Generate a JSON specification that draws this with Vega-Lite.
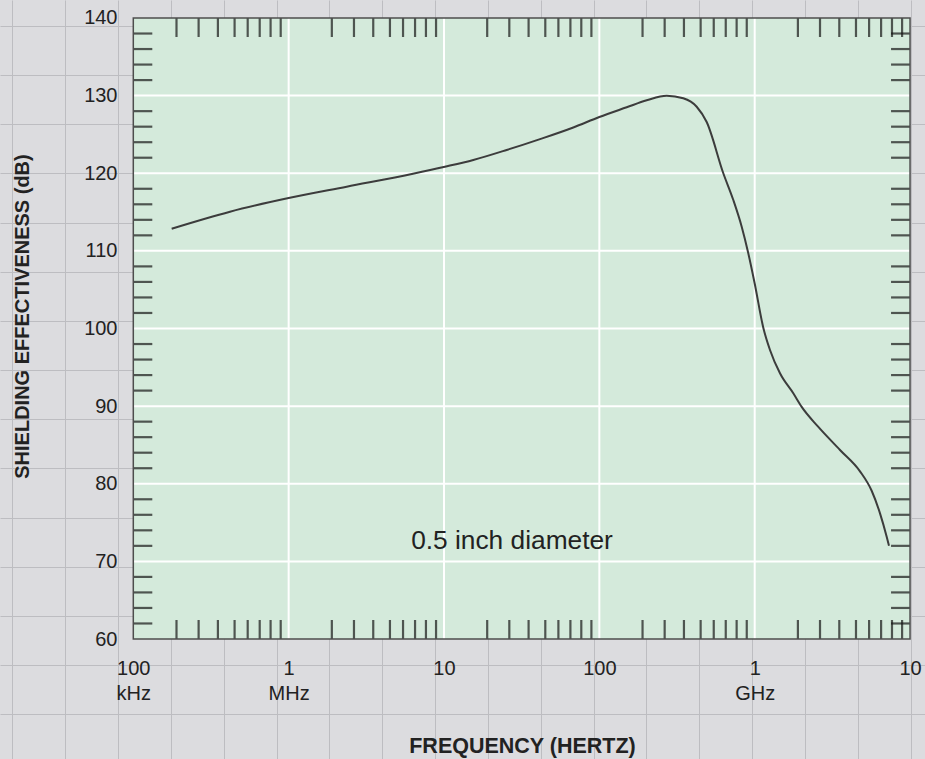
{
  "$schema": "https://vega.github.io/schema/vega-lite/v6.json",
  "width": 925,
  "height": 759,
  "autosize": {"type": "none"},
  "padding": 0,
  "background": "#dcdcdf",
  "config": {"view": {"stroke": null}, "font": "Liberation Sans"},
  "datasets": {
    "curve": [
      {"f": 176600, "db": 112.86},
      {"f": 419400, "db": 115.05},
      {"f": 1000000, "db": 116.8},
      {"f": 2364000, "db": 118.27},
      {"f": 6317000, "db": 119.94},
      {"f": 10140000, "db": 120.84},
      {"f": 15440000, "db": 121.71},
      {"f": 25330000, "db": 123.0},
      {"f": 41500000, "db": 124.4},
      {"f": 67970000, "db": 125.9},
      {"f": 100000000, "db": 127.25},
      {"f": 150000000, "db": 128.5},
      {"f": 201800000, "db": 129.4},
      {"f": 271300000, "db": 129.99},
      {"f": 347000000, "db": 129.66},
      {"f": 423400000, "db": 128.57},
      {"f": 490900000, "db": 126.6},
      {"f": 627900000, "db": 120.0},
      {"f": 728300000, "db": 116.55},
      {"f": 824900000, "db": 113.11},
      {"f": 909500000, "db": 109.69},
      {"f": 1000000000, "db": 105.8},
      {"f": 1136000000, "db": 100.1},
      {"f": 1254500000, "db": 97.23},
      {"f": 1455000000, "db": 94.23},
      {"f": 1772000000, "db": 91.65},
      {"f": 2007000000, "db": 89.9},
      {"f": 2560000000, "db": 87.35},
      {"f": 3541000000, "db": 84.35},
      {"f": 4762000000, "db": 81.6},
      {"f": 5662000000, "db": 79.1},
      {"f": 6407000000, "db": 76.19},
      {"f": 7074000000, "db": 73.18},
      {"f": 7319000000, "db": 72.02}
    ],
    "xgrid": [{"f": 1000000}, {"f": 10000000}, {"f": 100000000}, {"f": 1000000000}],
    "ygrid": [{"v": 70}, {"v": 80}, {"v": 90}, {"v": 100}, {"v": 110}, {"v": 120}, {"v": 130}],
    "xticks": [
      {"f": 189700}, {"f": 263300}, {"f": 350400}, {"f": 448800}, {"f": 545000}, {"f": 651200}, {"f": 765200}, {"f": 888900},
      {"f": 1897000}, {"f": 2633000}, {"f": 3504000}, {"f": 4488000}, {"f": 5450000}, {"f": 6512000}, {"f": 7652000}, {"f": 8889000},
      {"f": 18970000}, {"f": 26330000}, {"f": 35040000}, {"f": 44880000}, {"f": 54500000}, {"f": 65120000}, {"f": 76520000}, {"f": 88890000},
      {"f": 189700000}, {"f": 263300000}, {"f": 350400000}, {"f": 448800000}, {"f": 545000000}, {"f": 651200000}, {"f": 765200000}, {"f": 888900000},
      {"f": 1897000000}, {"f": 2633000000}, {"f": 3504000000}, {"f": 4488000000}, {"f": 5450000000}, {"f": 6512000000}, {"f": 7652000000}, {"f": 8889000000}
    ],
    "yticks": [
      {"v": 62}, {"v": 64}, {"v": 66}, {"v": 68}, {"v": 72}, {"v": 74}, {"v": 76}, {"v": 78},
      {"v": 82}, {"v": 84}, {"v": 86}, {"v": 88}, {"v": 92}, {"v": 94}, {"v": 96}, {"v": 98},
      {"v": 102}, {"v": 104}, {"v": 106}, {"v": 108}, {"v": 112}, {"v": 114}, {"v": 116}, {"v": 118},
      {"v": 122}, {"v": 124}, {"v": 126}, {"v": 128}, {"v": 132}, {"v": 134}, {"v": 136}, {"v": 138}
    ]
  },
  "layer": [
    {
      "data": {"values": [{"gx": 0, "gy": 0}]},
      "mark": {"type": "point", "opacity": 0},
      "encoding": {
        "x": {
          "field": "gx", "type": "quantitative",
          "scale": {"domain": [-0.2327, 17.27], "nice": false, "zero": false},
          "axis": {"orient": "bottom", "values": [0,1,2,3,4,5,6,7,8,9,10,11,12,13,14,15,16,17], "grid": true, "gridColor": "#bdbdc1", "gridWidth": 1, "labels": false, "ticks": false, "domain": false, "title": null}
        },
        "y": {
          "field": "gy", "type": "quantitative",
          "scale": {"domain": [-0.5289, 14.91], "nice": false, "zero": false, "reverse": true},
          "axis": {"orient": "left", "values": [0,1,2,3,4,5,6,7,8,9,10,11,12,13,14], "grid": true, "gridColor": "#bdbdc1", "gridWidth": 1, "labels": false, "ticks": false, "domain": false, "title": null}
        }
      }
    },
    {
      "layer": [
        {
          "data": {"values": [{}]},
          "mark": {"type": "rect", "fill": "#d4eadb"},
          "encoding": {
            "x": {"datum": 100000, "type": "quantitative", "scale": {"type": "log", "domain": [13866, 12482000000], "nice": false}},
            "x2": {"datum": 10000000000},
            "y": {"datum": 60, "type": "quantitative", "scale": {"domain": [44.5411, 142.3188], "nice": false, "zero": false}},
            "y2": {"datum": 140}
          }
        },
        {
          "data": {"name": "xgrid"},
          "mark": {"type": "rule", "color": "#ffffff", "strokeWidth": 2},
          "encoding": {
            "x": {"field": "f", "type": "quantitative"},
            "y": {"datum": 60, "type": "quantitative"},
            "y2": {"datum": 140}
          }
        },
        {
          "data": {"name": "ygrid"},
          "mark": {"type": "rule", "color": "#ffffff", "strokeWidth": 2},
          "encoding": {
            "y": {"field": "v", "type": "quantitative"},
            "x": {"datum": 100000, "type": "quantitative"},
            "x2": {"datum": 10000000000}
          }
        },
        {
          "data": {"name": "xticks"},
          "mark": {"type": "tick", "orient": "vertical", "size": 19, "thickness": 2.2, "color": "#161616", "yOffset": 9.5},
          "encoding": {
            "x": {"field": "f", "type": "quantitative"},
            "y": {"datum": 140, "type": "quantitative"}
          }
        },
        {
          "data": {"name": "xticks"},
          "mark": {"type": "tick", "orient": "vertical", "size": 19, "thickness": 2.2, "color": "#161616", "yOffset": -9.5},
          "encoding": {
            "x": {"field": "f", "type": "quantitative"},
            "y": {"datum": 60, "type": "quantitative"}
          }
        },
        {
          "data": {"name": "yticks"},
          "mark": {"type": "tick", "orient": "horizontal", "size": 19, "thickness": 2.2, "color": "#161616", "xOffset": 9.5},
          "encoding": {
            "y": {"field": "v", "type": "quantitative"},
            "x": {"datum": 100000, "type": "quantitative"}
          }
        },
        {
          "data": {"name": "yticks"},
          "mark": {"type": "tick", "orient": "horizontal", "size": 19, "thickness": 2.2, "color": "#161616", "xOffset": -9.5},
          "encoding": {
            "y": {"field": "v", "type": "quantitative"},
            "x": {"datum": 10000000000, "type": "quantitative"}
          }
        },
        {
          "data": {"name": "curve"},
          "mark": {"type": "line", "color": "#3c3c3c", "strokeWidth": 2, "interpolate": "monotone"},
          "encoding": {
            "x": {
              "field": "f", "type": "quantitative",
              "axis": {
                "orient": "bottom", "offset": -120,
                "values": [100000, 1000000, 10000000, 100000000, 1000000000, 10000000000],
                "labelExpr": "datum.value < 200000 ? ['100','kHz'] : datum.value < 2000000 ? ['1','MHz'] : datum.value < 20000000 ? '10' : datum.value < 200000000 ? '100' : datum.value < 2000000000 ? ['1','GHz'] : '10'",
                "labelFont": "Liberation Sans", "labelFontSize": 20, "labelColor": "#222222",
                "labelPadding": 19, "labelLineHeight": 25, "labelFlush": false, "labelOverlap": false, "labelBound": false,
                "labelAlign": "center", "labelBaseline": "top",
                "ticks": false, "domain": false, "grid": false,
                "title": "FREQUENCY (HERTZ)", "titleFont": "Liberation Sans", "titleFontSize": 21.5, "titleFontWeight": "bold", "titleColor": "#222222",
                "titleX": 522, "titleY": 113.7, "titleAlign": "center", "titleBaseline": "alphabetic", "titleAngle": 0
              }
            },
            "y": {
              "field": "db", "type": "quantitative",
              "axis": {
                "orient": "left", "offset": -133,
                "values": [60, 70, 80, 90, 100, 110, 120, 130, 140],
                "labelFont": "Liberation Sans", "labelFontSize": 20, "labelColor": "#222222",
                "labelPadding": 16, "labelFlush": false, "labelOverlap": false, "labelBound": false,
                "labelAlign": "right", "labelBaseline": "middle",
                "ticks": false, "domain": false, "grid": false,
                "title": "SHIELDING EFFECTIVENESS (dB)", "titleFont": "Liberation Sans", "titleFontSize": 20, "titleFontWeight": "bold", "titleColor": "#222222",
                "titleX": -105, "titleY": 316, "titleAlign": "center", "titleBaseline": "alphabetic", "titleAngle": -90
              }
            }
          }
        },
        {
          "data": {"values": [{}]},
          "mark": {"type": "text", "text": "0.5 inch diameter", "font": "Liberation Sans", "fontSize": 26.3, "color": "#222222", "align": "center", "baseline": "alphabetic"},
          "encoding": {
            "x": {"datum": 27400000, "type": "quantitative"},
            "y": {"datum": 71.55, "type": "quantitative"}
          }
        },
        {
          "data": {"values": [{}]},
          "mark": {"type": "rect", "filled": false, "stroke": "#4d4d4d", "strokeWidth": 1.5},
          "encoding": {
            "x": {"datum": 100000, "type": "quantitative"},
            "x2": {"datum": 10000000000},
            "y": {"datum": 60, "type": "quantitative"},
            "y2": {"datum": 140}
          }
        }
      ]
    }
  ],
  "resolve": {"scale": {"x": "independent", "y": "independent"}}
}
